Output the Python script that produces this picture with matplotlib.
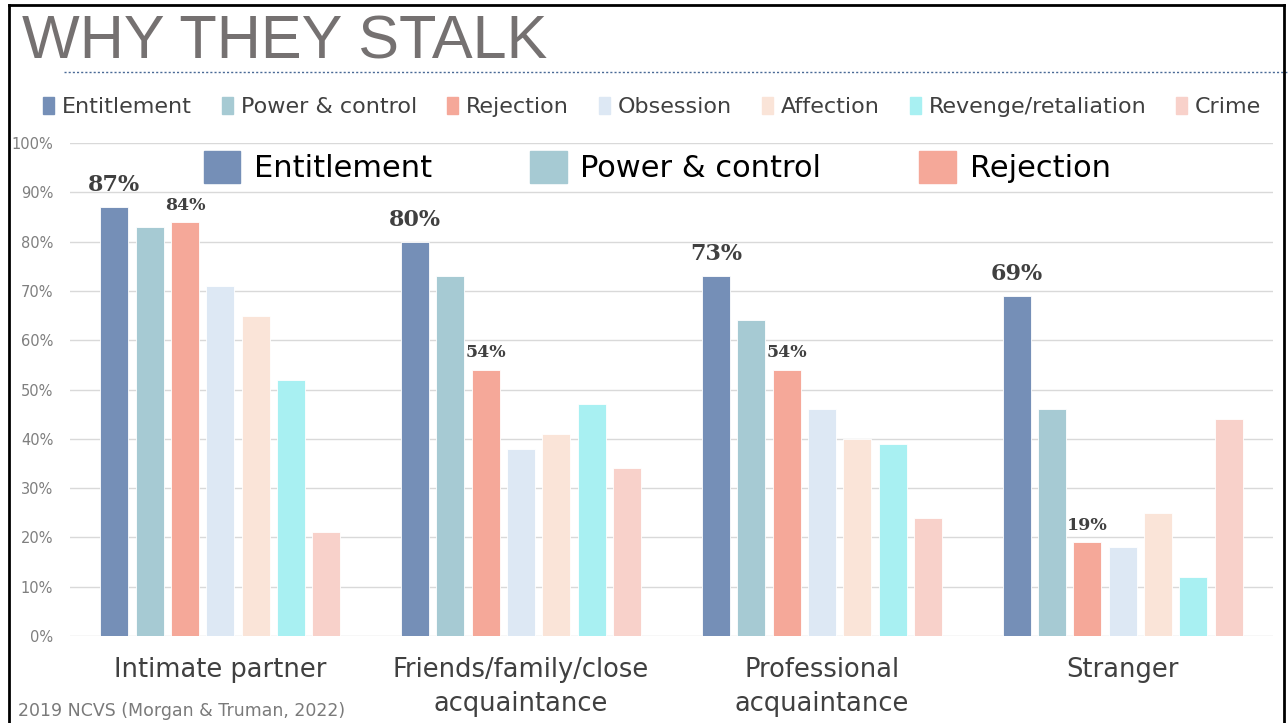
import matplotlib
matplotlib.use("Agg")
import matplotlib.pyplot as plt
from matplotlib.lines import Line2D
from matplotlib.patches import Patch
import numpy as np

categories = ["Intimate partner", "Friends/family/close\nacquaintance",
              "Professional\nacquaintance", "Stranger"]
series = ["Entitlement", "Power & control", "Rejection", "Obsession",
          "Affection", "Revenge/retaliation", "Crime"]
entitlement = [87, 80, 73, 69]
power_control = [83, 73, 64, 46]
rejection = [84, 54, 54, 19]
obsession = [71, 38, 46, 18]
affection = [65, 41, 40, 25]
revenge = [52, 47, 39, 12]
crime = [21, 34, 24, 44]
colors = ["#758FB7", "#A6CAD3", "#F5A899", "#DDE8F4", "#FAE4D8", "#A8F0F2", "#F8D1CA"]
yticks = [0, 10, 20, 30, 40, 50, 60, 70, 80, 90, 100]

values = [entitlement, power_control, rejection, obsession, affection, revenge, crime]

fig = plt.figure(figsize=(12.88, 7.23), dpi=100)
ax = fig.add_axes([0.0543, 0.1203, 0.9341, 0.6819])

x = np.arange(len(categories))
step, width = 0.1175, 0.093
for i, (name, vals, c) in enumerate(zip(series, values, colors)):
    bars = ax.bar(x + (i - 3) * step, vals, width, color=c, edgecolor="white",
                  linewidth=0.6, zorder=3, label=name)
    if i in (0, 2):
        # bold slab-ish labels on entitlement (big) and rejection (small)
        size, off = (16, 8) if i == 0 else (12.5, 6)
        for b, v in zip(bars, vals):
            ax.annotate(f"{v}%", (b.get_x() + b.get_width() / 2, v), xytext=(0, off),
                        textcoords="offset points", ha="center", va="bottom",
                        fontsize=size, fontweight="bold", color="#404040",
                        family="DejaVu Serif")

ax.set_xlim(-0.5, 3.5)
ax.set_ylim(0, 100)
ax.set_yticks(yticks)
ax.set_yticklabels([f"{t}%" for t in yticks], fontsize=10.5, color="#7f7f7f")
ax.set_xticks(x)
ax.set_xticklabels(categories, fontsize=18.5, color="#404040", linespacing=1.4)
ax.tick_params(axis="x", length=0, pad=15)
ax.tick_params(axis="y", length=0, pad=12)
ax.grid(axis="y", color="#d9d9d9", linewidth=1, zorder=0)
for s in ax.spines.values():
    s.set_visible(False)

# big legend inside plot (first three series)
handles = [Patch(color=c) for c in colors[:3]]
ax.legend(handles, series[:3], loc="upper center", bbox_to_anchor=(0.488, 1.02),
          ncol=3, frameon=False, fontsize=22, handlelength=1.2, handleheight=1.2,
          columnspacing=3.2, handletextpad=0.45, borderaxespad=0.2)

# small legend across top
small = [Patch(color=c) for c in colors]
fig.legend(small, series, loc="center left", bbox_to_anchor=(0.018, 0.852),
           ncol=7, frameon=False, fontsize=16, handlelength=0.5, handleheight=0.8,
           columnspacing=1.35, handletextpad=0.35, labelcolor="#404040")

fig.text(0.017, 0.94, "WHY THEY STALK", fontsize=44, color="#757171",
         family=["Liberation Sans", "DejaVu Sans"], va="center")
fig.add_artist(Line2D([0.05, 1.0], [0.9, 0.9], transform=fig.transFigure,
                      color="#4a6a96", linewidth=1, linestyle=(0, (1.5, 1.5))))
fig.text(0.014, 0.016, "2019 NCVS (Morgan & Truman, 2022)", fontsize=12.5,
         color="#7a7a7a", va="center")

# slide border
for xs, ys in [([0.007, 0.007], [0.0, 0.993]), ([0.007, 0.997], [0.993, 0.993]),
               ([0.997, 0.997], [0.0, 0.993])]:
    fig.add_artist(Line2D(xs, ys, transform=fig.transFigure, color="black", linewidth=2))

fig.savefig("out.png", dpi=100)
